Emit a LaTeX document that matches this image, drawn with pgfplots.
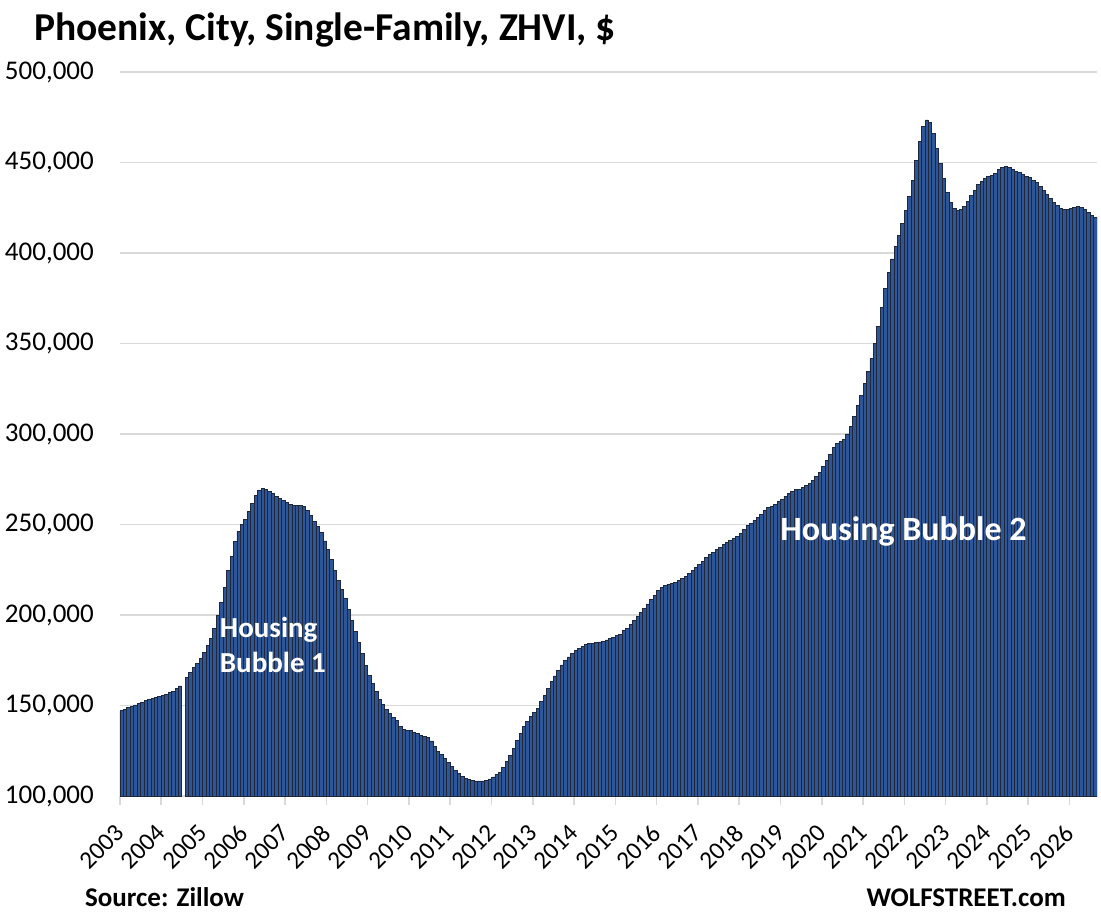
\documentclass[border=0pt]{standalone}
\usepackage{pgfplots}
\pgfplotsset{compat=1.18}
\usepackage{pgfplotstable}
\usepackage{fontspec}
\setmainfont{Carlito}
\definecolor{barfill}{RGB}{46,85,150}
\definecolor{baredge}{RGB}{30,40,58}
\definecolor{gridgray}{RGB}{217,217,217}

% month index (0 = Jan 2003), value in thousands of $
\pgfplotstableread{
i v
0 147.0
1 147.9
2 148.7
3 149.5
4 150.3
5 151.1
6 151.9
7 152.6
8 153.2
9 153.8
10 154.4
11 155.0
12 155.6
13 156.3
14 157.0
15 158.0
16 159.3
17 160.8
19 165.6
20 168.2
21 170.8
22 173.3
23 176.2
24 179.5
25 183.4
26 187.2
27 192.6
28 199.5
29 207.0
30 215.0
31 224.5
32 232.5
33 240.5
34 246.0
35 250.0
36 253.0
37 257.0
38 261.5
39 266.0
40 269.0
41 269.7
42 269.6
43 268.3
44 267.0
45 265.6
46 264.4
47 263.3
48 262.4
49 261.3
50 260.4
51 260.3
52 260.6
53 259.7
54 258.0
55 255.0
56 251.8
57 248.8
58 245.5
59 240.9
60 236.0
61 230.5
62 224.5
63 219.3
64 214.0
65 209.3
66 203.2
67 197.0
68 191.0
69 185.0
70 178.5
71 172.0
72 166.5
73 162.0
74 158.0
75 153.5
76 150.6
77 147.7
78 145.7
79 143.5
80 141.5
81 138.5
82 136.7
83 136.0
84 136.0
85 135.2
86 134.4
87 133.4
88 132.8
89 132.1
90 130.4
91 127.6
92 124.8
93 122.9
94 120.5
95 118.3
96 116.1
97 114.1
98 112.4
99 110.9
100 109.6
101 108.9
102 108.5
103 108.3
104 108.3
105 108.3
106 108.6
107 109.4
108 110.5
109 111.7
110 113.2
111 115.8
112 119.2
113 122.4
114 126.4
115 130.6
116 134.7
117 138.3
118 141.0
119 143.8
120 146.0
121 148.6
122 152.1
123 155.8
124 159.3
125 163.2
126 166.3
127 169.3
128 172.4
129 174.9
130 176.8
131 178.7
132 180.3
133 181.6
134 182.7
135 183.6
136 184.2
137 184.4
138 184.7
139 185.1
140 185.6
141 186.2
142 186.9
143 187.7
144 188.6
145 189.5
146 191.2
147 192.6
148 195.0
149 196.9
150 199.1
151 201.3
152 203.7
153 206.1
154 208.7
155 210.9
156 213.4
157 215.3
158 216.2
159 217.0
160 217.5
161 218.2
162 219.3
163 220.3
164 221.2
165 222.7
166 224.8
167 226.5
168 227.8
169 229.8
170 231.8
171 233.2
172 234.7
173 236.3
174 237.5
175 238.9
176 240.2
177 241.2
178 242.2
179 243.4
180 245.2
181 247.0
182 249.2
183 250.5
184 252.3
185 253.8
186 255.6
187 257.8
188 259.2
189 260.1
190 261.2
191 262.6
192 263.9
193 265.6
194 267.1
195 268.5
196 269.1
197 269.5
198 270.3
199 271.5
200 272.6
201 274.4
202 276.7
203 278.5
204 282.0
205 285.4
206 288.7
207 292.4
208 294.7
209 295.7
210 297.0
211 300.0
212 304.4
213 309.5
214 315.5
215 321.5
216 328.0
217 334.4
218 341.5
219 350.0
220 359.2
221 369.9
222 380.4
223 389.0
224 396.7
225 403.5
226 409.9
227 416.4
228 423.4
229 431.1
230 440.3
231 451.0
232 461.5
233 469.8
234 473.5
235 472.0
236 466.1
237 457.8
238 449.6
239 441.3
240 433.3
241 427.8
242 424.5
243 423.4
244 424.1
245 425.8
246 428.7
247 432.0
248 434.8
249 437.6
250 439.6
251 441.3
252 442.2
253 442.7
254 444.1
255 445.9
256 447.3
257 447.7
258 447.3
259 446.2
260 445.3
261 444.4
262 443.5
263 442.5
264 441.6
265 440.3
266 439.0
267 437.0
268 434.4
269 432.4
270 430.2
271 427.8
272 426.0
273 424.7
274 423.8
275 423.8
276 424.5
277 425.0
278 425.6
279 425.4
280 424.0
281 422.4
282 420.8
283 419.7
}\datatable

\begin{document}
\begin{tikzpicture}[x=1pt,y=1pt]
\useasboundingbox (0pt,0pt) rectangle (1101pt,914pt);
\begin{axis}[
  at={(120pt,118pt)}, anchor=south west,
  scale only axis, width=977pt, height=724pt,
  xmin=-0.5, xmax=283.5, ymin=100, ymax=500,
  ybar, bar width=1,
  axis lines*=left,
  x axis line style={gridgray, line width=1.6pt},
  y axis line style={draw=none},
  ymajorgrids,
  major grid style={gridgray, line width=1.6pt},
  ytick={100,150,200,250,300,350,400,450,500},
  yticklabels={{100,000},{150,000},{200,000},{250,000},{300,000},{350,000},{400,000},{450,000},{500,000}},
  ytick style={draw=none},
  xtick={-0.5,11.5,23.5,35.5,47.5,59.5,71.5,83.5,95.5,107.5,119.5,131.5,143.5,155.5,167.5,179.5,191.5,203.5,215.5,227.5,239.5,251.5,263.5,275.5},
  xticklabels={2003,2004,2005,2006,2007,2008,2009,2010,2011,2012,2013,2014,2015,2016,2017,2018,2019,2020,2021,2022,2023,2024,2025,2026},
  xtick style={gridgray, line width=1.6pt},
  tick align=outside, major tick length=9pt,
  /pgf/number format/assume math mode=true,
  yticklabel style={font=\fontsize{27}{30}\selectfont, inner sep=0pt, xshift=-17pt},
  xticklabel shift=24pt,
  xticklabel style={font=\fontsize{25}{28}\selectfont, inner sep=0pt, rotate=45, anchor=east},
]
\addplot[fill=barfill, draw=baredge, line width=0.9pt] table[x=i, y=v] {\datatable};
\node[anchor=base west, inner sep=0pt, text=white, font=\fontsize{29}{32}\selectfont\bfseries] at (axis cs:28.5,187.8) {Housing};
\node[anchor=base west, inner sep=0pt, text=white, font=\fontsize{29}{32}\selectfont\bfseries] at (axis cs:28.5,168.5) {Bubble 1};
\node[anchor=base west, inner sep=0pt, text=white, font=\fontsize{34}{38}\selectfont\bfseries] at (axis cs:191.4,240.9) {Housing Bubble 2};
\end{axis}
\node[anchor=base west, inner sep=0pt, font=\fontsize{39.5}{44}\selectfont\bfseries] at (34pt,873pt) {Phoenix, City, Single-Family, ZHVI, \$};
\node[anchor=base west, inner sep=0pt, font=\fontsize{27}{30}\selectfont\bfseries] at (85pt,8pt) {Source: Zillow};
\node[anchor=base east, inner sep=0pt, font=\fontsize{27}{30}\selectfont\bfseries] at (1066pt,8pt) {WOLFSTREET.com};
\end{tikzpicture}
\end{document}
